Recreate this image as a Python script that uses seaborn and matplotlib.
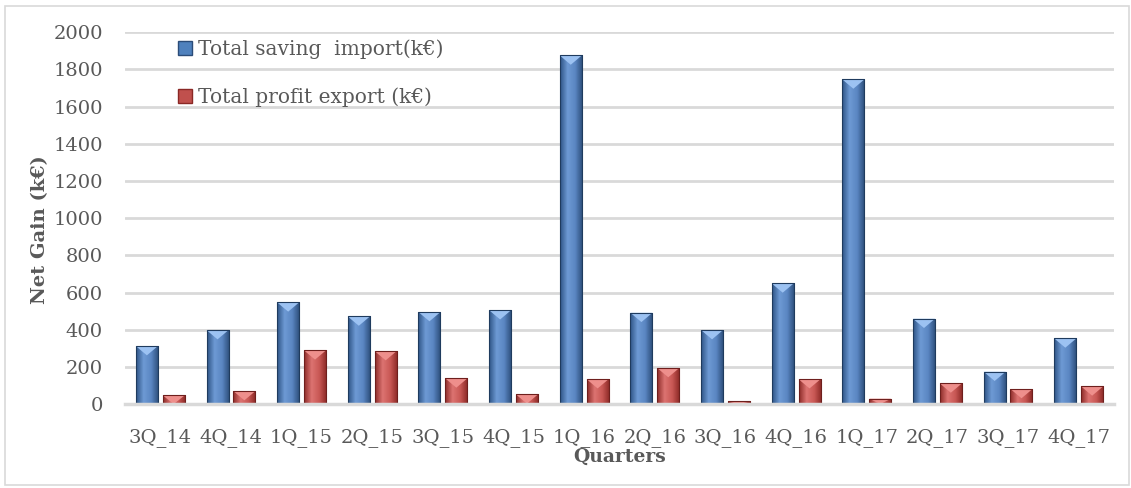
import numpy as np
import pandas as pd
import matplotlib
matplotlib.use("Agg")
import matplotlib.pyplot as plt
from matplotlib.colors import LinearSegmentedColormap
from matplotlib.patches import Patch, Rectangle
import seaborn as sns

quarters = ["3Q_14", "4Q_14", "1Q_15", "2Q_15", "3Q_15", "4Q_15", "1Q_16",
            "2Q_16", "3Q_16", "4Q_16", "1Q_17", "2Q_17", "3Q_17", "4Q_17"]
saving_import = [312, 398, 547, 471, 495, 505, 1875, 491, 398, 649, 1746, 459, 174, 353]
profit_export = [47, 70, 289, 285, 138, 52, 134, 194, 14, 134, 29, 111, 81, 95]
series_names = ["Total saving  import(k\u20ac)", "Total profit export (k\u20ac)"]

df = pd.DataFrame({
    "quarter": quarters * 2,
    "value": saving_import + profit_export,
    "series": [series_names[0]] * len(quarters) + [series_names[1]] * len(quarters),
})

text_color = "#595959"
blue, red = "#4F81BD", "#C0504D"

sns.set_style("white")
plt.rcParams["font.family"] = ["DejaVu Serif"]

fig, ax = plt.subplots(figsize=(11.31, 4.88), dpi=100)
fig.subplots_adjust(left=0.1105, right=0.985, top=0.934, bottom=0.172)

sns.barplot(data=df, x="quarter", y="value", hue="series", palette=[blue, red],
            width=0.76, gap=0.18, ax=ax, legend=False, saturation=1,
            edgecolor="none", zorder=3)

# shade the bars with a horizontal gradient to mimic the bevelled look
cmaps = {
    blue: LinearSegmentedColormap.from_list("b", ["#2E5486", "#6E9AD4", "#5A86C2", "#2B4C78"]),
    red: LinearSegmentedColormap.from_list("r", ["#8E2C29", "#DC7371", "#C95855", "#8A2825"]),
}
grad = np.linspace(0, 1, 64).reshape(1, -1)
for bar in list(ax.patches):
    h = bar.get_height()
    if h <= 0:
        continue
    x0, w = bar.get_x(), bar.get_width()
    fc = blue if bar.get_facecolor()[2] > 0.5 else red
    im = ax.imshow(grad, cmap=cmaps[fc], extent=(x0, x0 + w, 0, h),
                   aspect="auto", zorder=4, origin="lower")
    im.set_clip_path(bar)
    # light bevel at the top of each bar
    tri_h = min(h, 50)
    ax.fill([x0, x0 + w, x0 + w / 2], [h, h, h - tri_h],
            color="#9CC2F2" if fc == blue else "#EE8F8C", zorder=5, lw=0)
    ax.add_patch(Rectangle((x0, 0), w, h, fill=False, ec="#1F3B5E" if fc == blue else "#6E1F1D",
                           lw=0.8, zorder=6))

ax.set_xlim(-0.5, len(quarters) - 0.5)
ax.set_ylim(0, 2000)
ax.set_yticks(np.arange(0, 2001, 200))
ax.yaxis.grid(True, color="#D9D9D9", lw=2, zorder=0)
ax.xaxis.grid(False)
for s in ["top", "right", "left"]:
    ax.spines[s].set_visible(False)
ax.spines["bottom"].set_color("#D9D9D9")
ax.spines["bottom"].set_linewidth(2.5)
ax.spines["bottom"].set_zorder(7)

ax.tick_params(axis="both", length=0, labelsize=14, labelcolor=text_color)
ax.tick_params(axis="y", pad=16)
ax.tick_params(axis="x", pad=17)

ax.set_xlabel("Quarters", fontsize=13.5, fontweight="bold", color=text_color)
ax.xaxis.set_label_coords(0.5, -0.118)
ax.set_ylabel("Net Gain (k\u20ac)", fontsize=14, fontweight="bold", color=text_color)
ax.yaxis.set_label_coords(-0.077, 0.468)

handles = [Patch(facecolor=blue, edgecolor="#2B4C78"), Patch(facecolor=red, edgecolor="#8A2825")]
leg = ax.legend(handles, series_names, loc="upper left", bbox_to_anchor=(0.035, 1.03),
                frameon=False, fontsize=14.5, labelcolor=text_color, handlelength=0.7,
                handleheight=0.7, handletextpad=0.3, labelspacing=1.4)

fig.add_artist(Rectangle((0.004, 0.006), 0.994, 0.982, transform=fig.transFigure,
                         fill=False, ec="#D9D9D9", lw=1.2))

fig.savefig("out.png", dpi=100)
